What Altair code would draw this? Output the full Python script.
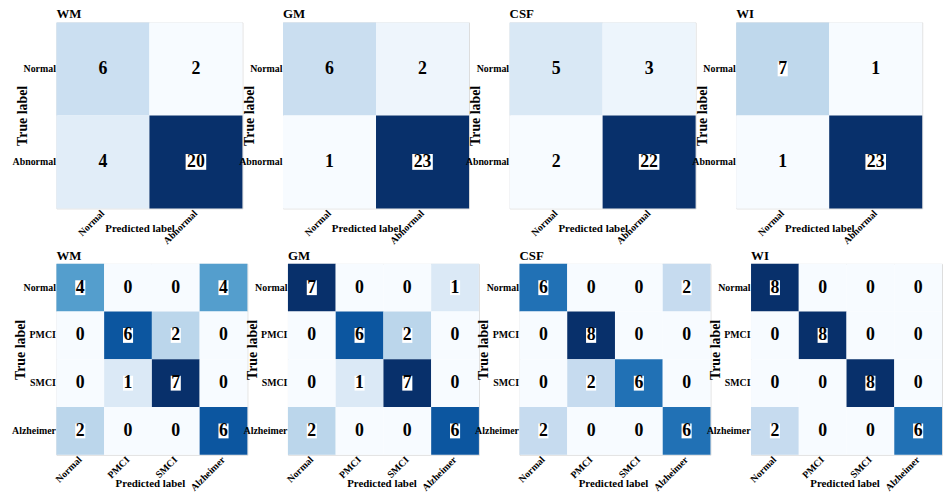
import altair as alt
import pandas as pd

SERIF = "Liberation Serif"

# ---- data ----
labels2 = ["Normal", "Abnormal"]
labels4 = ["Normal", "PMCI", "SMCI", "Alzheimer"]
tissues = ["WM", "GM", "CSF", "WI"]

wm2 = [[6, 2], [4, 20]]
gm2 = [[6, 2], [1, 23]]
csf2 = [[5, 3], [2, 22]]
wi2 = [[7, 1], [1, 23]]

wm4 = [[4, 0, 0, 4], [0, 6, 2, 0], [0, 1, 7, 0], [2, 0, 0, 6]]
gm4 = [[7, 0, 0, 1], [0, 6, 2, 0], [0, 1, 7, 0], [2, 0, 0, 6]]
csf4 = [[6, 0, 0, 2], [0, 8, 0, 0], [0, 2, 6, 0], [2, 0, 0, 6]]
wi4 = [[8, 0, 0, 0], [0, 8, 0, 0], [0, 0, 8, 0], [2, 0, 0, 6]]

top_mats = [wm2, gm2, csf2, wi2]
bottom_mats = [wm4, gm4, csf4, wi4]

# matplotlib "Blues" colormap stops
BLUES = ["#f7fbff", "#deebf7", "#c6dbef", "#9ecae1", "#6baed6",
         "#4292c6", "#2171b5", "#08519c", "#08306b"]


def panel(name, labels, mat, size, box_min, xt_dx, xt_y, yt_x, yt_dy):
    rows = []
    for i, t in enumerate(labels):
        for j, p in enumerate(labels):
            rows.append({"true": t, "pred": p, "v": mat[i][j]})
    df = pd.DataFrame(rows)
    vals = [v for r in mat for v in r]
    lo, hi = min(vals), max(vals)
    dom = [lo + (hi - lo) * k / (len(BLUES) - 1) for k in range(len(BLUES))]

    base = alt.Chart(df).encode(
        x=alt.X("pred:N", sort=labels,
                scale=alt.Scale(paddingInner=0, paddingOuter=0),
                axis=alt.Axis(title="Predicted label", labelAngle=-45,
                              labelAlign="right", labelBaseline="middle",
                              labelFont=SERIF, labelFontSize=10,
                              labelFontWeight="bold", labelColor="black",
                              labelPadding=3, ticks=False, domain=False,
                              titleFont=SERIF, titleFontSize=11,
                              titleFontWeight="bold", titleColor="black",
                              titleX=size / 2 + xt_dx, titleY=xt_y,
                              titleAlign="center", titleBaseline="middle")),
        y=alt.Y("true:N", sort=labels,
                scale=alt.Scale(paddingInner=0, paddingOuter=0),
                axis=alt.Axis(title="True label",
                              labelFont=SERIF, labelFontSize=10,
                              labelFontWeight="bold", labelColor="black",
                              labelPadding=1, ticks=False, domain=False,
                              titleFont=SERIF, titleFontSize=14,
                              titleFontWeight="bold", titleColor="black",
                              titleX=yt_x, titleY=size / 2 + yt_dy,
                              titleAngle=270, titleAlign="center",
                              titleBaseline="middle")),
    )
    rect = base.mark_rect().encode(
        color=alt.Color("v:Q", legend=None,
                        scale=alt.Scale(domain=dom, range=BLUES,
                                        interpolate="rgb"))
    )
    box1 = base.mark_point(
        shape="M-0.68,-1H0.68V1H-0.68Z", filled=True, color="white",
        opacity=1, size=225, strokeWidth=0
    ).transform_filter(f"datum.v >= {box_min} && datum.v < 10")
    box2 = base.mark_point(
        shape="M-1.3,-1H1.3V1H-1.3Z", filled=True, color="white",
        opacity=1, size=256, strokeWidth=0
    ).transform_filter(f"datum.v >= {box_min} && datum.v >= 10")
    text = base.mark_text(font=SERIF, fontSize=18, fontWeight="bold",
                          color="black", baseline="middle").encode(
        text="v:Q")
    return alt.layer(rect, box1, box2, text).properties(
        width=size, height=size,
        title=alt.TitleParams(name, anchor="start", frame="group",
                              font=SERIF, fontSize=13, fontWeight="bold",
                              color="black", offset=1),
    )


top = alt.hconcat(
    *[panel(n, labels2, m, 188, 7, -10, 20, -34, 0)
      for n, m in zip(tissues, top_mats)],
    spacing=41, bounds="flush").resolve_scale(color="independent")
bottom = alt.hconcat(
    *[panel(n, labels4, m, 193, 1, -2, 29, -36, -10)
      for n, m in zip(tissues, bottom_mats)],
    spacing=41, bounds="flush").resolve_scale(color="independent")

chart = alt.vconcat(top, bottom, spacing=2).resolve_scale(
    color="independent"
).properties(
    padding={"left": 11, "top": 5, "right": 0, "bottom": 0}
).configure_view(stroke="#cccccc", strokeWidth=1).configure(
    background="white")

chart.save("out.html", embed_options={"renderer": "svg", "actions": False})
